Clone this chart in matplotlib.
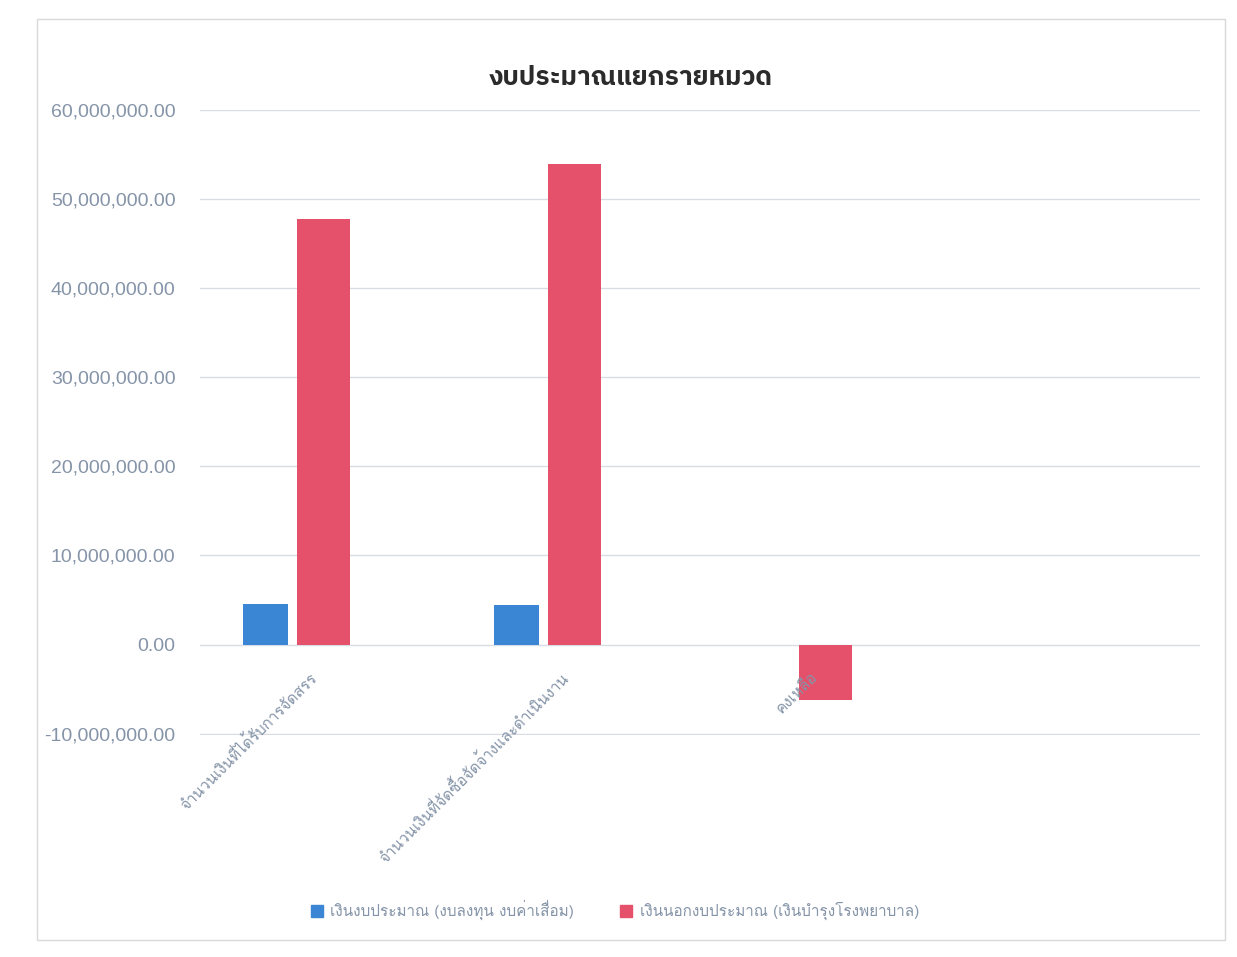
import matplotlib
matplotlib.use("Agg")
import matplotlib.pyplot as plt
from matplotlib import font_manager
from matplotlib.ft2font import FT2Font
from matplotlib.patches import Rectangle
from matplotlib.ticker import FuncFormatter
import numpy as np

# ข้อมูลงบประมาณ (อ่านค่าจากภาพ)
categories = ["จำนวนเงินที่ได้รับการจัดสรร", "จำนวนเงินที่จัดซื้อจัดจ้างและดำเนินงาน", "คงเหลือ"]
series_names = ["เงินงบประมาณ (งบลงทุน งบค่าเสื่อม)", "เงินนอกงบประมาณ (เงินบำรุงโรงพยาบาล)"]
budget = [4_500_000, 4_450_000, 0]
off_budget = [47_800_000, 54_000_000, -6_200_000]
yticks = [-10_000_000, 0, 10_000_000, 20_000_000, 30_000_000, 40_000_000, 50_000_000, 60_000_000]

BLUE = "#3a86d4"
RED = "#e5506a"
GREY_TXT = "#8594a8"


def find_thai_fonts():
    # ชื่อฟอนต์ไทย -> น้ำหนักที่มี
    found = {}
    for f in font_manager.fontManager.ttflist:
        try:
            if 0x0E01 in FT2Font(f.fname).get_charmap():
                w = f.weight if isinstance(f.weight, int) else 400
                found.setdefault(f.name, set()).add(w)
        except Exception:
            pass
    return found


def pick(prefs, avail, bold=False):
    for p in prefs:
        if p in avail and (not bold or max(avail[p]) >= 700):
            return [p]
    return list(avail)[:1]


thai = find_thai_fonts()
body_font = pick(["Loma", "Tlwg Typo", "Garuda", "Noto Sans Thai"], thai) + ["DejaVu Sans"]
title_font = pick(["Noto Sans Thai", "IBM Plex Sans Thai", "Kanit", "Prompt", "Sarabun", "Loma"],
                  thai, bold=True) + ["DejaVu Sans"]
plt.rcParams["font.family"] = body_font

fig = plt.figure(figsize=(12.37, 9.57), dpi=100)
ax = fig.add_axes([0.162, 0.232, 0.808, 0.653])

x = np.arange(len(categories))
ax.bar(x - 0.12, budget, width=0.18, color=BLUE, zorder=3)
ax.bar(x + 0.11, off_budget, width=0.21, color=RED, zorder=3)

ax.set_xlim(-0.38, 3.6)
ax.set_ylim(-10_150_000, 60_000_000)
ax.set_yticks(yticks)
ax.yaxis.set_major_formatter(FuncFormatter(lambda v, p: f"{v:,.2f}"))
ax.tick_params(axis="y", length=0, pad=18, labelsize=14, labelcolor=GREY_TXT)
for t in ax.get_yticklabels():
    t.set_fontfamily(["Liberation Sans", "DejaVu Sans"])
ax.set_xticks([])
ax.grid(axis="y", color="#d9dde3", linewidth=1, zorder=0)
for s in ax.spines.values():
    s.set_visible(False)

# ป้ายหมวดเอียง 45 องศา ชิดเส้นศูนย์
for i, lab in enumerate(categories):
    ax.annotate(lab, (i + 0.05, 0), xytext=(0, -18), textcoords="offset points",
                rotation=45, ha="right", va="top", rotation_mode="anchor",
                fontsize=11, color=GREY_TXT)

fig.text(0.51, 0.918, "งบประมาณแยกรายหมวด", ha="center", va="center",
         fontsize=19, fontweight="bold", color="#2b2b2b", family=title_font)

handles = [Rectangle((0, 0), 1, 1, color=BLUE), Rectangle((0, 0), 1, 1, color=RED)]
fig.legend(handles, series_names, loc="center", bbox_to_anchor=(0.497, 0.049), ncol=2,
           frameon=False, fontsize=11, labelcolor=GREY_TXT, handlelength=0.8,
           handleheight=0.8, columnspacing=3, handletextpad=0.5)

fig.patches.append(Rectangle((0.03, 0.018), 0.96, 0.962, transform=fig.transFigure,
                             fill=False, edgecolor="#d9d9d9", linewidth=1))

fig.savefig("out.png", dpi=100)
